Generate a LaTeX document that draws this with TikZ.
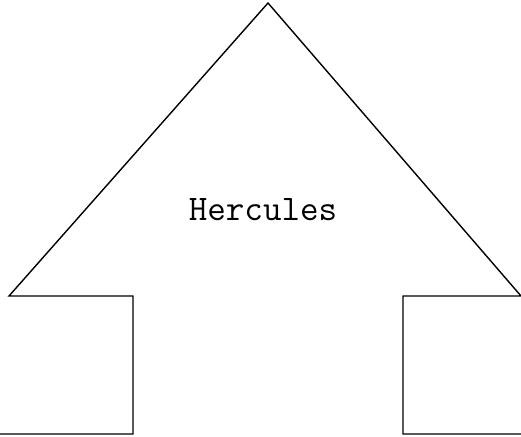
\documentclass[tikz,border=0pt]{standalone}
\usetikzlibrary{positioning}

\begin{document}
\begin{tikzpicture}[x=1pt, y=-1pt,
  outline/.style = {draw, line width=1.4pt, line join=miter},
  label/.style   = {font=\ttfamily\fontsize{36}{42}\selectfont, inner sep=0pt}
]
\useasboundingbox (0,0) rectangle (521,436);

% ,  Corners of the arrow outline ,
\coordinate (apex)   at (268,3);
\coordinate (baseL)  at (9,296);
\coordinate (baseR)  at (521,296);
\coordinate (legLin) at (133,296);
\coordinate (legLbt) at (133,434);
\coordinate (legLft) at (0,434);
\coordinate (legRin) at (403,296);
\coordinate (legRbt) at (403,434);
\coordinate (legRrt) at (521,434);

% ,  Outline ,
\draw[outline] (legLft) -- (legLbt) -- (legLin) -- (baseL) -- (apex)
               -- (baseR) -- (legRin) -- (legRbt) -- (legRrt);

% ,  Label ,
\node[label] (name) at (263,210) {Hercules};

\end{tikzpicture}
\end{document}
